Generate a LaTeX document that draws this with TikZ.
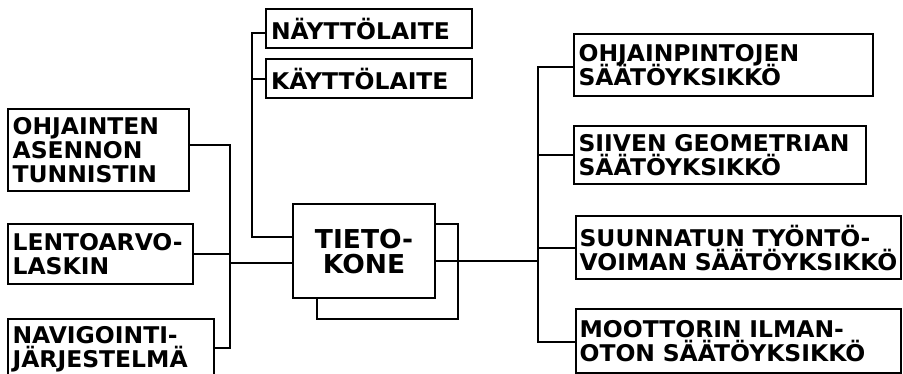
\documentclass[tikz,border=0pt]{standalone}
\usepackage{fontspec}
\setmainfont{DejaVu Sans}[BoldFont={DejaVu Sans Bold}]
\newfontfamily\handfont{DejaVu Sans Bold}[FakeStretch=1.02]
\newcommand\bxline[1]{\mbox{#1}}
\newcommand\tightlines{\lineskiplimit -30pt\relax\lineskip 0pt\relax}
\lineskiplimit -30pt\relax
\lineskip 0pt\relax
\begin{document}
\begin{tikzpicture}[x=1pt,y=-1pt,
  box/.style={draw, line width=2.2pt, rectangle, anchor=north west, inner xsep=0pt, inner ysep=0pt,
    font={\handfont\fontsize{23}{24}\selectfont\tightlines}, align=left},
  wire/.style={line width=2.2pt, line join=miter}]
\useasboundingbox (0,0) rectangle (903,373);
\clip (0,0) rectangle (903,373);
% left inputs
\node[box, minimum width=181pt, minimum height=82pt, text width=172pt] (ohj) at (7,108) {\bxline{OHJAINTEN}\\\bxline{ASENNON}\\\bxline{TUNNISTIN}};
\node[box, minimum width=185pt, minimum height=60pt, text width=176pt] (len) at (7,223) {\bxline{LENTOARVO-}\\\bxline{LASKIN}};
\node[box, minimum width=206pt, minimum height=60pt, text width=197pt] (nav) at (7,318) {\bxline{NAVIGOINTI-}\\\bxline{JÄRJESTELMÄ}};
% top
\node[box, minimum width=206pt, minimum height=39pt, text width=196pt] (nay) at (265,8) {\bxline{NÄYTTÖLAITE}};
\node[box, minimum width=206pt, minimum height=39pt, text width=196pt] (kay) at (265,58) {\bxline{KÄYTTÖLAITE}};
% computer
\node[box, minimum width=142pt, minimum height=94pt, align=center, font={\handfont\fontsize{26}{25}\selectfont\tightlines}] (tk) at (292,203) {TIETO-\\KONE};
% right outputs
\node[box, minimum width=299pt, minimum height=62pt, text width=290pt] (op) at (573,33) {\bxline{OHJAINPINTOJEN}\\\bxline{SÄÄTÖYKSIKKÖ}};
\node[box, minimum width=292pt, minimum height=58pt, text width=283pt] (si) at (573,125) {\bxline{SIIVEN GEOMETRIAN}\\\bxline{SÄÄTÖYKSIKKÖ}};
\node[box, minimum width=325pt, minimum height=63pt, text width=318pt] (su) at (575,215) {\bxline{SUUNNATUN TYÖNTÖ-}\\\bxline{VOIMAN SÄÄTÖYKSIKKÖ}};
\node[box, minimum width=325pt, minimum height=64pt, text width=318pt] (mo) at (575,308) {\bxline{MOOTTORIN ILMAN-}\\\bxline{OTON SÄÄTÖYKSIKKÖ}};
% bus coordinates
\coordinate (L1) at (230,145);
\coordinate (L3) at (230,348);
\coordinate (LJ) at (230,263);
\coordinate (T1) at (252,33);
\coordinate (T3) at (252,237);
\coordinate (F1) at (458,224);
\coordinate (F2) at (317,319);
\coordinate (R0) at (538,261);
\coordinate (R1) at (538,67);
\coordinate (R4) at (538,342);
% left bus
\draw[wire] (ohj.east |- L1) -- (L1) -- (L3) -- (nav.east |- L3);
\draw[wire] (len.east) -- (len.east -| L1);
\draw[wire] (LJ) -- (LJ -| tk.west);
% top bus
\draw[wire] (nay.west |- T1) -- (T1) -- (T3) -- (T3 -| tk.west);
\draw[wire] (kay.west) -- (kay.west -| T1);
% feedback loop
\draw[wire] (tk.east |- F1) -- (F1) -- (F1 |- F2) -- (F2) -- (F2 |- tk.south);
% right bus
\draw[wire] (tk.east |- R0) -- (R0);
\draw[wire] (op.west |- R1) -- (R1) -- (R4) -- (mo.west |- R4);
\draw[wire] (si.west) -- (si.west -| R1);
\draw[wire] (su.west) -- (su.west -| R1);
\end{tikzpicture}
\end{document}
